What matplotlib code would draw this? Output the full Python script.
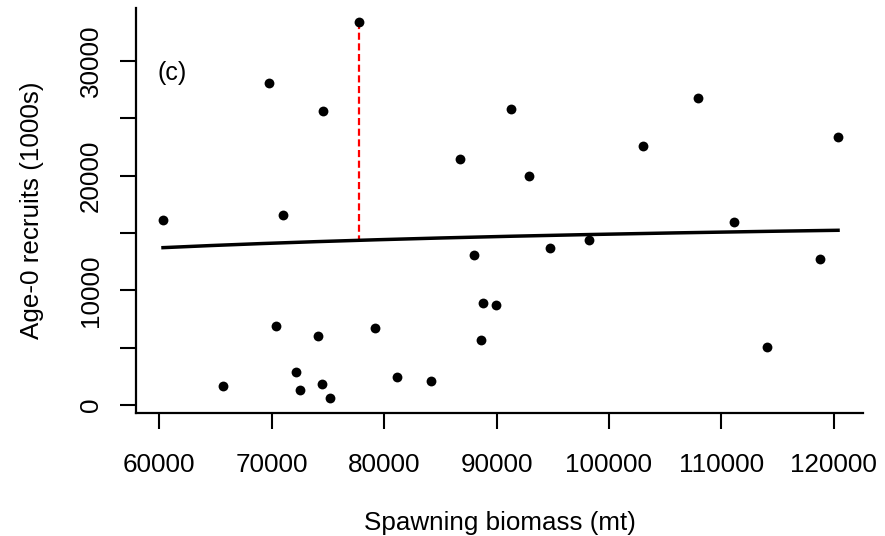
import matplotlib.pyplot as plt
import numpy as np

plt.rcParams['font.family'] = ['Liberation Sans', 'DejaVu Sans']

# spawning biomass (mt) and age-0 recruits (1000s)
biomass = [60330, 65684, 69726, 70386, 71038, 72198, 72555, 74161, 74545, 74455,
           75169, 77730, 79220, 81147, 84128, 86742, 87991, 88589, 88768, 89981,
           91293, 92926, 94800, 98226, 103044, 107952, 111164, 114047, 118803, 120383]
recruits = [16133, 1683, 28080, 6889, 16543, 2904, 1308, 5991, 25665, 1831,
            637, 33374, 6741, 2468, 2067, 21427, 13107, 5642, 8895, 8695,
            25813, 19997, 13718, 14389, 22613, 26799, 15933, 5058, 12732, 23372]

# fitted Beverton-Holt curve R = a*S/(b+S)
bh_a = 17136
bh_b = 15016

# highlighted residual (the largest recruitment)
hl_idx = 11

xticks = [60000, 70000, 80000, 90000, 100000, 110000, 120000]
yticks = [0, 5000, 10000, 15000, 20000, 25000, 30000]
ylabels = ['0', '', '10000', '', '20000', '', '30000']

fig = plt.figure(figsize=(8.85, 5.36), dpi=100)
ax = fig.add_axes([0.1537, 0.2295, 0.8214, 0.7555])

s = np.linspace(min(biomass), max(biomass), 200)
ax.plot(s, bh_a * s / (bh_b + s), color='black', lw=2.5, zorder=2)

hx = biomass[hl_idx]
ax.plot([hx, hx], [recruits[hl_idx], bh_a * hx / (bh_b + hx)],
        color='red', lw=1.6, linestyle=(0, (3.2, 1.6)), zorder=1)

ax.scatter(biomass, recruits, s=50, color='black', zorder=3, linewidths=0)

ax.set_xlim(57930, 122600)
ax.set_ylim(-700, 34620)

ax.set_xticks(xticks)
ax.set_xticklabels([str(v) for v in xticks])
ax.set_yticks(yticks)
ax.set_yticklabels(ylabels, rotation=90, va='center')

ax.spines['top'].set_visible(False)
ax.spines['right'].set_visible(False)
ax.spines['left'].set_linewidth(1.6)
ax.spines['bottom'].set_linewidth(1.6)
ax.tick_params(axis='both', direction='out', length=11.5, width=1.5, labelsize=18.7)
ax.tick_params(axis='x', pad=17)
ax.tick_params(axis='y', pad=12.5)

ax.set_xlabel('Spawning biomass (mt)', fontsize=18.7, labelpad=25)
ax.set_ylabel('Age-0 recruits (1000s)', fontsize=18.7, labelpad=25)

ax.text(0.03, 0.84, '(c)', transform=ax.transAxes, fontsize=18,
        ha='left', va='center')

fig.savefig('out.png', dpi=100)
